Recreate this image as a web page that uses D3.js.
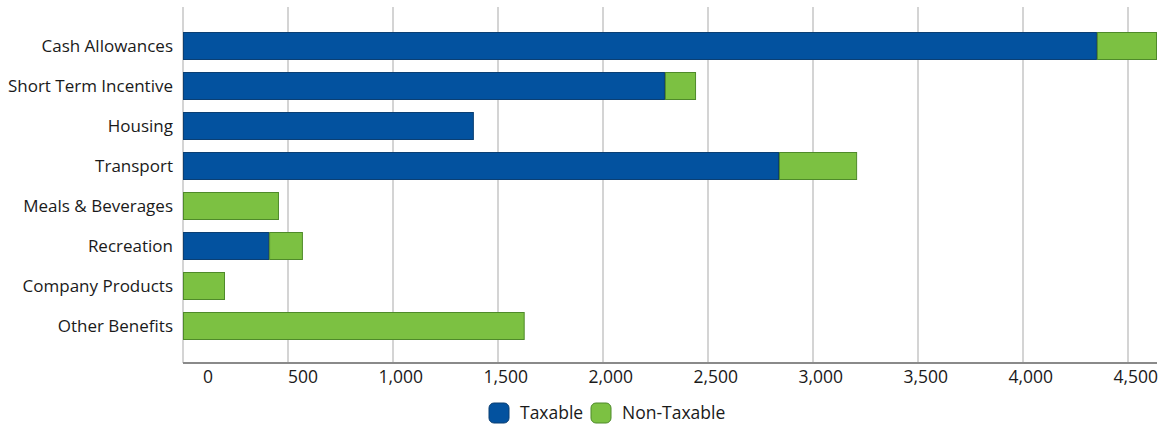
<!DOCTYPE html>
<html>
<head>
<meta charset="utf-8">
<script src="https://cdnjs.cloudflare.com/ajax/libs/d3/7.8.5/d3.min.js"></script>
<style>
  body { margin: 0; background: #fff; }
  text { font-family: "Open Sans", "Noto Sans", sans-serif; fill: #1a1a1a; }
</style>
</head>
<body>
<div id="chart"></div>
<script>
(function() {
  var categories = ["Cash Allowances", "Short Term Incentive", "Housing", "Transport",
                    "Meals & Beverages", "Recreation", "Company Products", "Other Benefits"];
  var taxable    = [4352, 2295, 1385, 2838, 0, 410, 0, 0];
  var nonTaxable = [286, 148, 0, 372, 457, 161, 200, 1627];
  var seriesNames = ["Taxable", "Non-Taxable"];
  var ticks = [0, 500, 1000, 1500, 2000, 2500, 3000, 3500, 4000, 4500];

  var colors = { "Taxable": "#03529f", "Non-Taxable": "#7cc142" };
  var strokes = { "Taxable": "#0b3f73", "Non-Taxable": "#4f8a2a" };

  var width = 1165, height = 425;
  var left = 183, right = 1157, top = 7, axisY = 363;

  var svg = d3.select("#chart")
    .append("svg")
    .attr("width", width)
    .attr("height", height);

  var x = d3.scaleLinear()
    .domain([0, 4638])
    .range([left, right]);

  var y = d3.scaleBand()
    .domain(categories)
    .range([26, 346])
    .paddingInner(0.3)
    .paddingOuter(0.15);

  // gridlines
  svg.append("g")
    .selectAll("line")
    .data(ticks)
    .enter().append("line")
    .attr("x1", function(d) { return x(d) })
    .attr("x2", function(d) { return x(d) })
    .attr("y1", top)
    .attr("y2", axisY)
    .attr("stroke", "#d4d4d4")
    .attr("stroke-width", 2)

  // stacked bars
  var rows = categories.map(function(c, i) {
    return { cat: c, Taxable: taxable[i], "Non-Taxable": nonTaxable[i] }
  })
  var stacked = d3.stack().keys(seriesNames)(rows)

  svg.append("g")
    .selectAll("g")
    .data(stacked)
    .enter().append("g")
    .each(function(s) {
      d3.select(this).selectAll("rect")
        .data(s.filter(function(d) { return d[1] - d[0] > 0 }))
        .enter().append("rect")
        .attr("x", function(d) { return x(d[0]) + 0.5 })
        .attr("y", function(d) { return y(d.data.cat) + 0.5 })
        .attr("width", function(d) { return x(d[1]) - x(d[0]) - 1 })
        .attr("height", y.bandwidth() - 1)
        .attr("fill", colors[s.key])
        .attr("stroke", strokes[s.key])
        .attr("stroke-width", 1)
    })

  // x axis line
  svg.append("line")
    .attr("x1", left)
    .attr("x2", right)
    .attr("y1", axisY)
    .attr("y2", axisY)
    .attr("stroke", "#8a8a8a")
    .attr("stroke-width", 2)

  // tick labels (right-aligned, shifted like the original)
  svg.append("g")
    .selectAll("text")
    .data(ticks)
    .enter().append("text")
    .text(function(d) { return d3.format(",")(d) })
    .attr("x", function(d) { return x(d) + 30 })
    .attr("y", 377)
    .attr("dy", "0.35em")
    .attr("text-anchor", "end")
    .attr("font-size", "17.5px")

  // category labels
  svg.append("g")
    .selectAll("text")
    .data(categories)
    .enter().append("text")
    .text(function(d) { return d })
    .attr("x", 173)
    .attr("y", function(d) { return y(d) + y.bandwidth() / 2 })
    .attr("dy", "0.35em")
    .attr("text-anchor", "end")
    .attr("font-size", "17px")

  // legend
  var legend = svg.append("g")
  var lx = [489, 591];
  seriesNames.forEach(function(name, i) {
    legend.append("rect")
      .attr("x", lx[i])
      .attr("y", 403)
      .attr("width", 20)
      .attr("height", 20)
      .attr("rx", 5)
      .attr("fill", colors[name])
      .attr("stroke", strokes[name])
    legend.append("text")
      .text(name)
      .attr("x", lx[i] + 31)
      .attr("y", 413)
      .attr("dy", "0.35em")
      .attr("font-size", "17.5px")
  })
})();
</script>
</body>
</html>
